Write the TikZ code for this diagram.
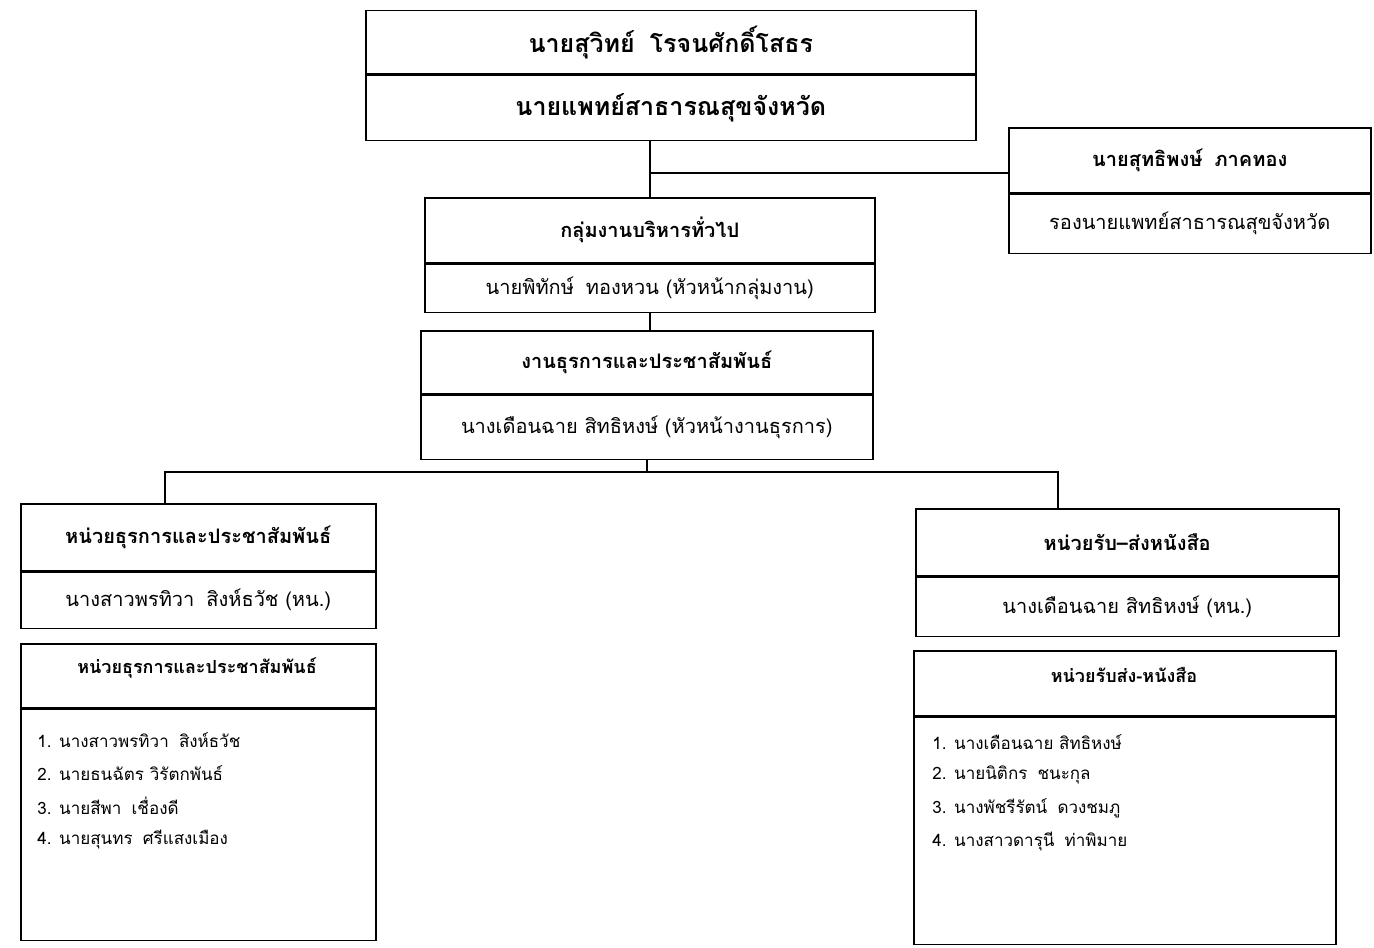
\documentclass[tikz,border=0pt]{standalone}
\usepackage{fontspec}
\setmainfont[Script=Thai]{Loma}
\usepackage{tikz}
\usetikzlibrary{positioning}

\newcommand{\bigtxt}{\fontsize{12.5}{15}\selectfont\bfseries}
\newcommand{\midtxt}{\fontsize{10}{12}\selectfont}
\newcommand{\smalltxt}{\fontsize{8.5}{10}\selectfont}
\newcommand{\gap}{\hspace{0.6em}}

\tikzset{
  cell/.style={draw, line width=0.75pt, anchor=north west, inner sep=0pt, align=center},
  wire/.style={line width=0.75pt},
  item/.style={anchor=west, inner sep=0pt}
}

\begin{document}
\begin{tikzpicture}[x=0.5pt,y=-0.5pt]
  \useasboundingbox[fill=white] (0,0) rectangle (1374,947);
  % head of office
  \node[cell, minimum width=305pt, minimum height=31.5pt] (chiefname) at (365,10) {\bigtxt นายสุวิทย์\gap โรจนศักดิ์โสธร};
  \node[cell, minimum width=305pt, minimum height=32.5pt] (chiefpos) at (chiefname.south west) {\bigtxt นายแพทย์สาธารณสุขจังหวัด};
  % deputy
  \node[cell, minimum width=181pt, minimum height=32.5pt] (deputyname) at (1008,127) {\midtxt\bfseries นายสุทธิพงษ์\gap ภาคทอง};
  \node[cell, minimum width=181pt, minimum height=29.5pt] (deputypos) at (deputyname.south west) {\midtxt รองนายแพทย์สาธารณสุขจังหวัด};
  % group
  \node[cell, minimum width=225pt, minimum height=32.5pt] (groupname) at (424,197) {\midtxt\bfseries กลุ่มงานบริหารทั่วไป};
  \node[cell, minimum width=225pt, minimum height=24pt] (grouphead) at (groupname.south west) {\midtxt นายพิทักษ์\gap ทองหวน (หัวหน้ากลุ่มงาน)};
  % section
  \node[cell, minimum width=226pt, minimum height=31.5pt] (secname) at (420,330) {\midtxt\bfseries งานธุรการและประชาสัมพันธ์};
  \node[cell, minimum width=226pt, minimum height=32pt] (sechead) at (secname.south west) {\midtxt นางเดือนฉาย สิทธิหงษ์ (หัวหน้างานธุรการ)};
  % units
  \node[cell, minimum width=177.5pt, minimum height=33.5pt] (adminname) at (20,503) {\midtxt\bfseries หน่วยธุรการและประชาสัมพันธ์};
  \node[cell, minimum width=177.5pt, minimum height=28pt] (adminhead) at (adminname.south west) {\midtxt นางสาวพรทิวา\gap สิงห์ธวัช (หน.)};
  \node[cell, minimum width=211.5pt, minimum height=33.5pt] (mailname) at (915,508) {\midtxt\bfseries หน่วยรับ--ส่งหนังสือ};
  \node[cell, minimum width=211.5pt, minimum height=29.5pt] (mailhead) at (mailname.south west) {\midtxt นางเดือนฉาย สิทธิหงษ์ (หน.)};
  % staff boxes
  \node[cell, minimum width=177.5pt, minimum height=32pt] (admintop) at (20,643) {};
  \node[cell, minimum width=177.5pt, minimum height=115.5pt] (adminlist) at (admintop.south west) {};
  \node (admintitle) at (197,668) {\fontsize{9}{11}\selectfont\bfseries หน่วยธุรการและประชาสัมพันธ์};
  \node[cell, minimum width=211pt, minimum height=32.5pt] (mailtop) at (913,650) {};
  \node[cell, minimum width=211pt, minimum height=113.5pt] (maillist) at (mailtop.south west) {};
  \node (mailtitle) at (1124,675) {\fontsize{9}{11}\selectfont\bfseries หน่วยรับส่ง-หนังสือ};
  \node[item] (a1) at (37,740) {\smalltxt 1. นางสาวพรทิวา\gap สิงห์ธวัช};
  \node[item] (a2) at (37,773) {\smalltxt 2. นายธนฉัตร วิรัตกพันธ์};
  \node[item] (a3) at (37,806) {\smalltxt 3. นายสีพา\gap เชื่องดี};
  \node[item] (a4) at (37,840) {\smalltxt 4. นายสุนทร\gap ศรีแสงเมือง};
  \node[item] (m1) at (932,742) {\smalltxt 1. นางเดือนฉาย สิทธิหงษ์};
  \node[item] (m2) at (932,775) {\smalltxt 2. นายนิติกร\gap ชนะกุล};
  \node[item] (m3) at (932,808) {\smalltxt 3. นางพัชรีรัตน์\gap ดวงชมภู};
  \node[item] (m4) at (932,842) {\smalltxt 4. นางสาวดารุนี\gap ท่าพิมาย};
  % connectors
  \coordinate (tap) at (650,173);
  \coordinate (leftdrop) at (165,472);
  \coordinate (rightdrop) at (1058,472);
  \coordinate (split) at (sechead.south |- leftdrop);
  \draw[wire] (groupname.north) -- (groupname.north |- chiefpos.south);
  \draw[wire] (tap) -- (tap -| deputyname.west);
  \draw[wire] (grouphead.south) -- (grouphead.south |- secname.north);
  \draw[wire] (sechead.south) -- (split);
  \draw[wire] (split) -- (leftdrop) -- (leftdrop |- adminname.north);
  \draw[wire] (split) -- (rightdrop) -- (rightdrop |- mailname.north);
\end{tikzpicture}
\end{document}
